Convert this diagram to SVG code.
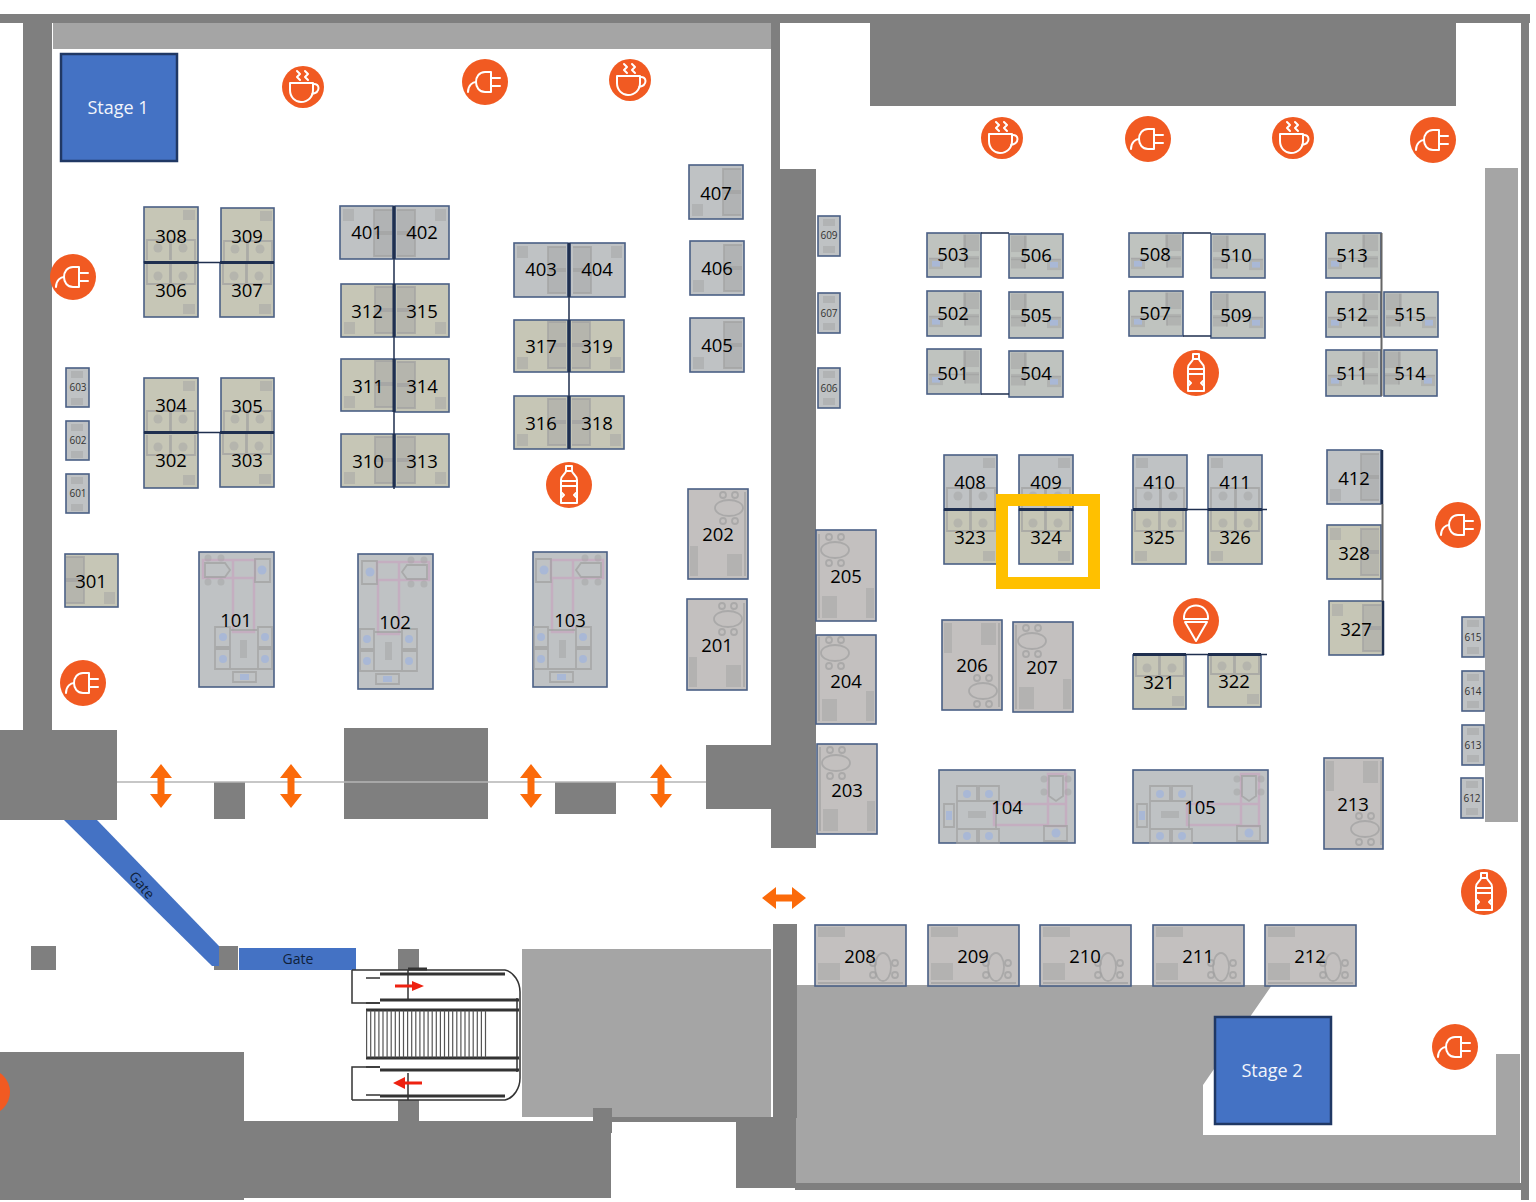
<svg xmlns="http://www.w3.org/2000/svg" xmlns:xlink="http://www.w3.org/1999/xlink" width="1536" height="1202" viewBox="0 0 1536 1202">
<style>
.d{fill:#7f7f7f}.l{fill:#a5a5a5}
.b{stroke:#4a5f85;stroke-width:1.6}
.be{fill:#c6c6b6}.co{fill:#bfc2c4}.wa{fill:#c3c0bf}.sa{fill:#bfc3bf}
.t{font-family:"Open Sans","Liberation Sans",sans-serif;font-size:18.5px;fill:#000;text-anchor:middle}
.s{font-size:10px;fill:#333}
.st{fill:#4472c4;stroke:#203864;stroke-width:2.5}
.w{font-family:"Open Sans","Liberation Sans",sans-serif;font-size:18px;fill:#f2f5fb;text-anchor:middle}
.g{font-family:"Open Sans","Liberation Sans",sans-serif;font-size:14px;fill:#0f1f3a;text-anchor:middle}
.f{fill:#a4a4a4;fill-opacity:.5}
.o{fill:none;stroke:#a0a0a0;stroke-width:1.800;stroke-opacity:.7}
.p{fill:none;stroke:#c4aec0;stroke-width:2.5}
.u{fill:#a9b8d6}
.i{fill:none;stroke:#fff;stroke-width:2;stroke-linejoin:round;stroke-linecap:round}
.c{fill:#f15a22}
.pt{stroke:#1f2f4f;fill:none}
.e{stroke:#333;fill:none}
</style>
<defs>
<g id="plug"><circle class="c" r="23"/><path class="i" d="M-17 10C-17 3-12 0-9 0M6-10H0C-6-10-9-5-9 0C-9 5-6 10 0 10H6ZM6-4H15M6 4H15"/></g>
<g id="cup"><circle class="c" r="21"/><path class="i" stroke-width="2.400" d="M-13-4H10V3C10 10 5 15-2 15C-8 15-13 10-13 3ZM10-3C17-4 18 5 9 7M-6-16L-3-13L-6-10L-3-7M2-16L5-13L2-10L5-7"/></g>
<g id="bottle"><circle class="c" r="23"/><path class="i" d="M-3-19H3V-14H-3ZM-3-14C-3-11-8-10-8-5V18H8V-5C8-10 3-11 3-14ZM-8-4H8M-8 1H8M-8 7L-5 10L-8 13M8 7L5 10L8 13"/></g>
<g id="ice"><circle class="c" r="23"/><path class="i" d="M-12-2C-13-20 13-20 12-2ZM-11 1H11L0 20Z"/></g>
<path id="up" fill="#fb6a0a" d="M0-22L11-8H3.500V8H11L0 22L-11 8H-3.500V-8H-11Z"/>
<g id="f3"><rect class="f" x="39" y="3" width="12" height="10"/><path class="o" d="M3 53V33H26V53M27 53V33H51V53"/><circle class="f" cx="14" cy="41" r="4.500"/><circle class="f" cx="39" cy="41" r="4.500"/></g>
<g id="fs"><rect class="f" x="3" y="3" width="11" height="12"/><path class="o" d="M52 4H34V26H52M52 28H34V50H52"/><rect class="f" x="34" y="4" width="18" height="46"/></g>
<g id="f5"><rect class="f" x="36" y="2" width="16" height="20"/><path class="o" d="M2 31H52M38 2V42"/><rect class="f" x="38" y="28" width="14" height="14"/><rect class="f" x="2" y="31" width="14" height="13"/><rect class="u" x="5" y="34" width="8" height="7"/></g>
<g id="f1"><path class="p" d="M4 8H56V26H4ZM34 26V80H55V26M34 8V26"/><path class="o" d="M6 11H26L31 18L26 25H6ZM56 7H71V30H56ZM16 75H31V95H16ZM16 97H31V117H16ZM59 75H73V95H59ZM59 97H73V117H59ZM31 78H59V117H31ZM34 120H57V130H34Z"/><circle class="f" cx="9" cy="6" r="3.500"/><circle class="f" cx="22" cy="6" r="3.500"/><circle class="f" cx="9" cy="30" r="3.500"/><circle class="f" cx="22" cy="30" r="3.500"/><circle class="u" cx="63" cy="18" r="4.500"/><circle class="u" cx="24" cy="85" r="4"/><circle class="u" cx="24" cy="107" r="4"/><circle class="u" cx="66" cy="85" r="4"/><circle class="u" cx="66" cy="107" r="4"/><rect class="u" x="41" y="122" width="9" height="6"/><rect class="f" x="41" y="88" width="7" height="18"/></g>
<g id="f2"><rect class="f" x="2" y="3" width="8" height="30"/><rect class="f" x="39" y="3" width="15" height="22"/><path class="o" d="M57 3V87"/><ellipse class="o" cx="41" cy="71" rx="14" ry="8"/><circle class="o" cx="35" cy="58" r="3"/><circle class="o" cx="47" cy="58" r="3"/><circle class="o" cx="35" cy="84" r="3"/><circle class="o" cx="47" cy="84" r="3"/></g>
<g id="f2h"><rect class="f" x="3" y="2" width="27" height="10"/><rect class="f" x="3" y="38" width="22" height="17"/><path class="o" d="M3 58H88"/><ellipse class="o" cx="68" cy="42" rx="8" ry="14"/><circle class="o" cx="58" cy="38" r="3"/><circle class="o" cx="58" cy="50" r="3"/><circle class="o" cx="80" cy="38" r="3"/><circle class="o" cx="80" cy="50" r="3"/></g>
<g id="f6"><rect class="f" x="5" y="3" width="12" height="7"/><rect class="f" x="5" y="30" width="12" height="7"/></g>
</defs>

<g id="building">
<rect class="d" x="0" y="14" width="1530" height="9"/>
<rect class="d" x="23" y="14" width="29" height="716"/>
<rect class="l" x="53" y="23" width="718" height="26"/>
<rect class="d" x="771" y="14" width="9" height="731"/>
<rect class="d" x="780" y="169" width="36" height="679"/>
<rect class="d" x="771" y="745" width="45" height="103"/>
<rect class="d" x="870" y="23" width="586" height="83"/>
<rect class="l" x="1485" y="168" width="33" height="654"/>
<rect class="d" x="1521" y="14" width="8" height="1186"/>
<path class="l" d="M795 985H1272L1203 1085V1135H1496V1054H1520V1183H795Z"/>
<rect class="d" x="795" y="1183" width="734" height="7"/>
<rect class="d" x="773" y="924" width="24" height="194"/>
<rect class="d" x="736" y="1118" width="60" height="70"/>
<rect class="l" x="522" y="949" width="249" height="168"/>
<rect class="d" x="0" y="1052" width="244" height="148"/>
<rect class="d" x="244" y="1121" width="367" height="77"/>
<rect class="d" x="593" y="1108" width="19" height="25"/>
<rect class="d" x="600" y="1117" width="173" height="5"/>
<rect class="d" x="0" y="730" width="117" height="90"/>
<rect class="d" x="214" y="782" width="31" height="37"/>
<rect class="d" x="344" y="728" width="144" height="91"/>
<rect class="d" x="555" y="782" width="61" height="32"/>
<rect class="d" x="706" y="745" width="65" height="64"/>
<path stroke="#b5b5b5" stroke-width="1.500" d="M117 782H706"/>
<rect class="d" x="31" y="946" width="25" height="24"/>
<rect class="d" x="214" y="946" width="24" height="24"/>
<rect class="d" x="398" y="949" width="21" height="21"/>
<rect class="d" x="398" y="1100" width="21" height="21"/>
</g>

<g id="gates">
<path fill="#4472c4" d="M64 820H97L219 946V966H212Z"/>
<text class="g" transform="translate(142,885) rotate(50)" y="5">Gate</text>
<rect fill="#4472c4" x="239" y="948" width="117" height="22"/>
<text class="g" x="298" y="964">Gate</text>
</g>

<g id="escalator">
<path class="e" stroke-width="1.500" d="M352 970V1003H380M352 1100V1067H380M352 970H505C514 972 520 982 520 992V1078C520 1088 514 1098 505 1100H352M408 970V1000M408 1073V1100"/>
<path class="e" stroke-width="3" d="M380 974H505M380 1000H519M380 1070H519M380 1096H505M366 1010H519M366 1058H519M408 969H427"/>
<path class="e" stroke-width="1.500" d="M366 978H380M366 1003H380M366 1067H380M366 1095H380M517 998V1072"/>
<line x1="366" y1="1034" x2="488" y2="1034" stroke="#555" stroke-width="47" stroke-dasharray="1.200 2.900"/>
<path fill="#ee2211" d="M395 984.500H412V981L424 986L412 991V987.500H395Z"/>
<path fill="#ee2211" d="M422 1081.500H405V1077L393 1083L405 1089V1084.500H422Z"/>
</g>

<g id="doors">
<use href="#up" x="161" y="786"/>
<use href="#up" x="291" y="786"/>
<use href="#up" x="531" y="786"/>
<use href="#up" x="661" y="786"/>
<use href="#up" transform="translate(784,898) rotate(90)"/>
</g>

<g id="stage1"><rect class="st" x="61" y="54" width="116" height="107"/><text class="w" x="118" y="114">Stage 1</text></g>
<g id="stage2"><rect class="st" x="1215" y="1017" width="116" height="107"/><text class="w" x="1272" y="1077">Stage 2</text></g>

<g id="b308"><rect class="b be" x="144" y="207" width="54" height="55"/><use href="#f3" transform="translate(144,207)"/><text class="t" x="171" y="243">308</text></g>
<g id="b309"><rect class="b be" x="221" y="208" width="53" height="54"/><use href="#f3" transform="translate(221,208)"/><text class="t" x="247" y="243">309</text></g>
<g id="b306"><rect class="b be" x="144" y="262" width="54" height="55"/><use href="#f3" transform="translate(144,317) scale(1,-1)"/><text class="t" x="171" y="297">306</text></g>
<g id="b307"><rect class="b be" x="220" y="263" width="54" height="54"/><use href="#f3" transform="translate(220,317) scale(1,-1)"/><text class="t" x="247" y="297">307</text></g>
<g id="b304"><rect class="b be" x="144" y="378" width="54" height="54"/><use href="#f3" transform="translate(144,378)"/><text class="t" x="171" y="412">304</text></g>
<g id="b305"><rect class="b be" x="221" y="378" width="53" height="54"/><use href="#f3" transform="translate(221,378)"/><text class="t" x="247" y="413">305</text></g>
<g id="b302"><rect class="b be" x="144" y="433" width="54" height="55"/><use href="#f3" transform="translate(144,488) scale(1,-1)"/><text class="t" x="171" y="467">302</text></g>
<g id="b303"><rect class="b be" x="220" y="433" width="54" height="54"/><use href="#f3" transform="translate(220,487) scale(1,-1)"/><text class="t" x="247" y="467">303</text></g>
<g id="b401"><rect class="b co" x="340" y="206" width="53" height="53"/><use href="#fs" transform="translate(340,206)"/><text class="t" x="367" y="239">401</text></g>
<g id="b402"><rect class="b co" x="395" y="206" width="54" height="53"/><use href="#fs" transform="translate(449,206) scale(-1,1)"/><text class="t" x="422" y="239">402</text></g>
<g id="b312"><rect class="b be" x="341" y="284" width="53" height="53"/><use href="#fs" transform="translate(341,337) scale(1,-1)"/><text class="t" x="367" y="318">312</text></g>
<g id="b315"><rect class="b be" x="395" y="284" width="54" height="53"/><use href="#fs" transform="translate(449,337) scale(-1,-1)"/><text class="t" x="422" y="318">315</text></g>
<g id="b311"><rect class="b be" x="341" y="359" width="53" height="52"/><use href="#fs" transform="translate(341,411) scale(1,-1)"/><text class="t" x="368" y="393">311</text></g>
<g id="b314"><rect class="b be" x="395" y="359" width="54" height="53"/><use href="#fs" transform="translate(449,412) scale(-1,-1)"/><text class="t" x="422" y="393">314</text></g>
<g id="b310"><rect class="b be" x="341" y="434" width="53" height="53"/><use href="#fs" transform="translate(341,487) scale(1,-1)"/><text class="t" x="368" y="468">310</text></g>
<g id="b313"><rect class="b be" x="395" y="434" width="54" height="53"/><use href="#fs" transform="translate(449,487) scale(-1,-1)"/><text class="t" x="422" y="468">313</text></g>
<g id="b403"><rect class="b co" x="514" y="243" width="54" height="54"/><use href="#fs" transform="translate(514,243)"/><text class="t" x="541" y="276">403</text></g>
<g id="b404"><rect class="b co" x="570" y="243" width="55" height="54"/><use href="#fs" transform="translate(625,243) scale(-1,1)"/><text class="t" x="597" y="276">404</text></g>
<g id="b317"><rect class="b be" x="514" y="320" width="54" height="52"/><use href="#fs" transform="translate(514,372) scale(1,-1)"/><text class="t" x="541" y="353">317</text></g>
<g id="b319"><rect class="b be" x="570" y="320" width="54" height="52"/><use href="#fs" transform="translate(624,372) scale(-1,-1)"/><text class="t" x="597" y="353">319</text></g>
<g id="b316"><rect class="b be" x="514" y="396" width="54" height="53"/><use href="#fs" transform="translate(514,449) scale(1,-1)"/><text class="t" x="541" y="430">316</text></g>
<g id="b318"><rect class="b be" x="570" y="396" width="54" height="53"/><use href="#fs" transform="translate(624,449) scale(-1,-1)"/><text class="t" x="597" y="430">318</text></g>
<g id="b407"><rect class="b co" x="689" y="165" width="54" height="54"/><use href="#fs" transform="translate(689,219) scale(1,-1)"/><text class="t" x="716" y="200">407</text></g>
<g id="b406"><rect class="b co" x="690" y="241" width="54" height="54"/><use href="#fs" transform="translate(690,295) scale(1,-1)"/><text class="t" x="717" y="275">406</text></g>
<g id="b405"><rect class="b co" x="690" y="318" width="54" height="54"/><use href="#fs" transform="translate(690,372) scale(1,-1)"/><text class="t" x="717" y="352">405</text></g>
<g id="b603"><rect class="b co" x="66" y="368" width="23" height="39"/><use href="#f6" transform="translate(66,368)"/><text class="t s" x="78" y="391">603</text></g>
<g id="b602"><rect class="b co" x="66" y="421" width="23" height="39"/><use href="#f6" transform="translate(66,421)"/><text class="t s" x="78" y="444">602</text></g>
<g id="b601"><rect class="b co" x="66" y="474" width="23" height="39"/><use href="#f6" transform="translate(66,474)"/><text class="t s" x="78" y="497">601</text></g>
<g id="b301"><rect class="b be" x="65" y="554" width="53" height="53"/><use href="#fs" transform="translate(118,607) scale(-1,-1)"/><text class="t" x="91" y="588">301</text></g>
<g id="b101"><rect class="b co" x="199" y="552" width="75" height="135"/><use href="#f1" transform="translate(199,552)"/><text class="t" x="236" y="627">101</text></g>
<g id="b102"><rect class="b co" x="358" y="554" width="75" height="135"/><use href="#f1" transform="translate(433,554) scale(-1,1)"/><text class="t" x="395" y="629">102</text></g>
<g id="b103"><rect class="b co" x="533" y="552" width="74" height="135"/><use href="#f1" transform="translate(607,552) scale(-1,1)"/><text class="t" x="570" y="627">103</text></g>
<g id="b202"><rect class="b wa" x="688" y="489" width="60" height="90"/><use href="#f2" transform="translate(688,579) scale(1,-1)"/><text class="t" x="718" y="541">202</text></g>
<g id="b201"><rect class="b wa" x="687" y="599" width="60" height="91"/><use href="#f2" transform="translate(687,690) scale(1,-1)"/><text class="t" x="717" y="652">201</text></g>
<g id="b205"><rect class="b wa" x="816" y="530" width="60" height="91"/><use href="#f2" transform="translate(876,621) rotate(180)"/><text class="t" x="846" y="583">205</text></g>
<g id="b204"><rect class="b wa" x="816" y="635" width="60" height="89"/><use href="#f2" transform="translate(876,724) rotate(180)"/><text class="t" x="846" y="688">204</text></g>
<g id="b203"><rect class="b wa" x="817" y="744" width="60" height="90"/><use href="#f2" transform="translate(877,834) rotate(180)"/><text class="t" x="847" y="797">203</text></g>
<g id="b609"><rect class="b co" x="818" y="216" width="22" height="40"/><use href="#f6" transform="translate(818,216)"/><text class="t s" x="829" y="239">609</text></g>
<g id="b607"><rect class="b co" x="818" y="293" width="22" height="40"/><use href="#f6" transform="translate(818,293)"/><text class="t s" x="829" y="317">607</text></g>
<g id="b606"><rect class="b co" x="818" y="368" width="22" height="40"/><use href="#f6" transform="translate(818,368)"/><text class="t s" x="829" y="392">606</text></g>
<g id="b503"><rect class="b sa" x="927" y="233" width="54" height="44"/><use href="#f5" transform="translate(927,233) scale(1,.82)"/><text class="t" x="953" y="261">503</text></g>
<g id="b506"><rect class="b sa" x="1009" y="234" width="54" height="44"/><use href="#f5" transform="translate(1063,234) scale(-1,.82)"/><text class="t" x="1036" y="262">506</text></g>
<g id="b502"><rect class="b sa" x="927" y="291" width="54" height="45"/><use href="#f5" transform="translate(927,291) scale(1,.82)"/><text class="t" x="953" y="320">502</text></g>
<g id="b505"><rect class="b sa" x="1009" y="292" width="54" height="46"/><use href="#f5" transform="translate(1063,292) scale(-1,.82)"/><text class="t" x="1036" y="322">505</text></g>
<g id="b501"><rect class="b sa" x="927" y="349" width="54" height="45"/><use href="#f5" transform="translate(927,349) scale(1,.82)"/><text class="t" x="953" y="380">501</text></g>
<g id="b504"><rect class="b sa" x="1009" y="351" width="54" height="46"/><use href="#f5" transform="translate(1063,351) scale(-1,.82)"/><text class="t" x="1036" y="380">504</text></g>
<g id="b508"><rect class="b sa" x="1129" y="233" width="54" height="44"/><use href="#f5" transform="translate(1129,233) scale(1,.82)"/><text class="t" x="1155" y="261">508</text></g>
<g id="b510"><rect class="b sa" x="1211" y="234" width="54" height="44"/><use href="#f5" transform="translate(1265,234) scale(-1,.82)"/><text class="t" x="1236" y="262">510</text></g>
<g id="b507"><rect class="b sa" x="1129" y="291" width="54" height="45"/><use href="#f5" transform="translate(1129,291) scale(1,.82)"/><text class="t" x="1155" y="320">507</text></g>
<g id="b509"><rect class="b sa" x="1211" y="292" width="54" height="46"/><use href="#f5" transform="translate(1265,292) scale(-1,.82)"/><text class="t" x="1236" y="322">509</text></g>
<g id="b513"><rect class="b sa" x="1326" y="233" width="55" height="45"/><use href="#f5" transform="translate(1326,233) scale(1,.82)"/><text class="t" x="1352" y="262">513</text></g>
<g id="b512"><rect class="b sa" x="1326" y="292" width="55" height="45"/><use href="#f5" transform="translate(1326,292) scale(1,.82)"/><text class="t" x="1352" y="321">512</text></g>
<g id="b515"><rect class="b sa" x="1384" y="292" width="54" height="45"/><use href="#f5" transform="translate(1438,292) scale(-1,.82)"/><text class="t" x="1410" y="321">515</text></g>
<g id="b511"><rect class="b sa" x="1326" y="350" width="55" height="46"/><use href="#f5" transform="translate(1326,350) scale(1,.82)"/><text class="t" x="1352" y="380">511</text></g>
<g id="b514"><rect class="b sa" x="1384" y="350" width="53" height="46"/><use href="#f5" transform="translate(1437,350) scale(-1,.82)"/><text class="t" x="1410" y="380">514</text></g>
<g id="b408"><rect class="b co" x="944" y="455" width="53" height="55"/><use href="#f3" transform="translate(944,455)"/><text class="t" x="970" y="489">408</text></g>
<g id="b409"><rect class="b co" x="1019" y="455" width="54" height="55"/><use href="#f3" transform="translate(1019,455)"/><text class="t" x="1046" y="489">409</text></g>
<g id="b323"><rect class="b be" x="944" y="510" width="53" height="54"/><use href="#f3" transform="translate(944,564) scale(1,-1)"/><text class="t" x="970" y="544">323</text></g>
<g id="b324"><rect class="b be" x="1019" y="510" width="54" height="54"/><use href="#f3" transform="translate(1019,564) scale(1,-1)"/><text class="t" x="1046" y="544">324</text></g>
<g id="b410"><rect class="b co" x="1133" y="455" width="54" height="55"/><use href="#f3" transform="translate(1187,455) scale(-1,1)"/><text class="t" x="1159" y="489">410</text></g>
<g id="b411"><rect class="b co" x="1208" y="455" width="54" height="55"/><use href="#f3" transform="translate(1262,455) scale(-1,1)"/><text class="t" x="1235" y="489">411</text></g>
<g id="b325"><rect class="b be" x="1132" y="510" width="54" height="54"/><use href="#f3" transform="translate(1186,564) scale(-1,-1)"/><text class="t" x="1159" y="544">325</text></g>
<g id="b326"><rect class="b be" x="1208" y="510" width="54" height="54"/><use href="#f3" transform="translate(1262,564) scale(-1,-1)"/><text class="t" x="1235" y="544">326</text></g>
<g id="b412"><rect class="b co" x="1327" y="450" width="54" height="54"/><use href="#fs" transform="translate(1327,504) scale(1,-1)"/><text class="t" x="1354" y="485">412</text></g>
<g id="b328"><rect class="b be" x="1327" y="525" width="54" height="54"/><use href="#fs" transform="translate(1327,525)"/><text class="t" x="1354" y="560">328</text></g>
<g id="b327"><rect class="b be" x="1329" y="601" width="54" height="54"/><use href="#fs" transform="translate(1329,601)"/><text class="t" x="1356" y="636">327</text></g>
<g id="b206"><rect class="b wa" x="942" y="620" width="60" height="90"/><use href="#f2" transform="translate(942,620)"/><text class="t" x="972" y="672">206</text></g>
<g id="b207"><rect class="b wa" x="1013" y="622" width="60" height="90"/><use href="#f2" transform="translate(1073,712) rotate(180)"/><text class="t" x="1042" y="674">207</text></g>
<g id="b321"><rect class="b be" x="1133" y="655" width="53" height="54"/><use href="#f3" transform="translate(1133,709) scale(1,-1)"/><text class="t" x="1159" y="689">321</text></g>
<g id="b322"><rect class="b be" x="1208" y="655" width="53" height="52"/><use href="#f3" transform="translate(1208,707) scale(1,-1)"/><text class="t" x="1234" y="688">322</text></g>
<g id="b104"><rect class="b co" x="939" y="770" width="136" height="73"/><use href="#f1" transform="translate(1074,770) rotate(90)"/><text class="t" x="1007" y="814">104</text></g>
<g id="b105"><rect class="b co" x="1133" y="770" width="135" height="73"/><use href="#f1" transform="translate(1267,770) rotate(90)"/><text class="t" x="1200" y="814">105</text></g>
<g id="b213"><rect class="b wa" x="1324" y="758" width="59" height="91"/><use href="#f2" transform="translate(1324,758)"/><text class="t" x="1353" y="811">213</text></g>
<g id="b615"><rect class="b co" x="1462" y="617" width="22" height="40"/><use href="#f6" transform="translate(1462,617)"/><text class="t s" x="1473" y="641">615</text></g>
<g id="b614"><rect class="b co" x="1462" y="671" width="22" height="40"/><use href="#f6" transform="translate(1462,671)"/><text class="t s" x="1473" y="695">614</text></g>
<g id="b613"><rect class="b co" x="1462" y="725" width="22" height="40"/><use href="#f6" transform="translate(1462,725)"/><text class="t s" x="1473" y="749">613</text></g>
<g id="b612"><rect class="b co" x="1461" y="778" width="22" height="40"/><use href="#f6" transform="translate(1461,778)"/><text class="t s" x="1472" y="802">612</text></g>
<g id="b208"><rect class="b wa" x="815" y="925" width="91" height="61"/><use href="#f2h" transform="translate(815,925)"/><text class="t" x="860" y="963">208</text></g>
<g id="b209"><rect class="b wa" x="928" y="925" width="91" height="61"/><use href="#f2h" transform="translate(928,925)"/><text class="t" x="973" y="963">209</text></g>
<g id="b210"><rect class="b wa" x="1040" y="925" width="91" height="61"/><use href="#f2h" transform="translate(1040,925)"/><text class="t" x="1085" y="963">210</text></g>
<g id="b211"><rect class="b wa" x="1153" y="925" width="91" height="61"/><use href="#f2h" transform="translate(1153,925)"/><text class="t" x="1198" y="963">211</text></g>
<g id="b212"><rect class="b wa" x="1265" y="925" width="91" height="61"/><use href="#f2h" transform="translate(1265,925)"/><text class="t" x="1310" y="963">212</text></g>

<g id="connectors">
<path class="pt" stroke-width="3" d="M144 262.500H198M220 262.500H274M144 432.500H198M220 432.500H274M394 206V259M394 284V337M394 359V412M394 434V487M569 243V297M569 320V372M569 396V449M944 509.500H997M1019 509.500H1073M1133 509.500H1187M1208 509.500H1262M1133 654.500H1186M1208 654.500H1261"/>
<path class="pt" stroke-width="1.500" d="M198 262.500H220M198 432.500H220M394 259V284M394 337V359M394 412V434M394 487V489M569 297V320M569 372V396M1187 509.500H1208M1262 509.500H1267M1186 654.500H1208M1261 654.500H1267M981 233H1009M981 394H1009M1183 233H1211M1183 336H1211"/>
<path stroke="#666" stroke-width="2" fill="none" d="M1381.500 233V396M1382.500 504V601"/>
<path class="pt" stroke-width="2.500" d="M1382 450V504M1383 601V655"/>
</g>

<g id="icons">
<use href="#cup" x="303" y="87"/>
<use href="#plug" x="485" y="82"/>
<use href="#cup" x="630" y="80"/>
<use href="#plug" x="73" y="277"/>
<use href="#plug" x="83" y="683"/>
<use href="#bottle" x="569" y="485"/>
<use href="#cup" x="1002" y="138"/>
<use href="#plug" x="1148" y="139"/>
<use href="#cup" x="1293" y="138"/>
<use href="#plug" x="1433" y="140"/>
<use href="#bottle" x="1196" y="373"/>
<use href="#plug" x="1458" y="525"/>
<use href="#ice" x="1196" y="621"/>
<use href="#bottle" x="1484" y="892"/>
<use href="#plug" x="1455" y="1047"/>
<circle class="c" cx="-13" cy="1092" r="23"/>
</g>

<rect id="highlight" x="1002" y="500" width="92" height="83" fill="none" stroke="#ffc000" stroke-width="12"/>
</svg>
